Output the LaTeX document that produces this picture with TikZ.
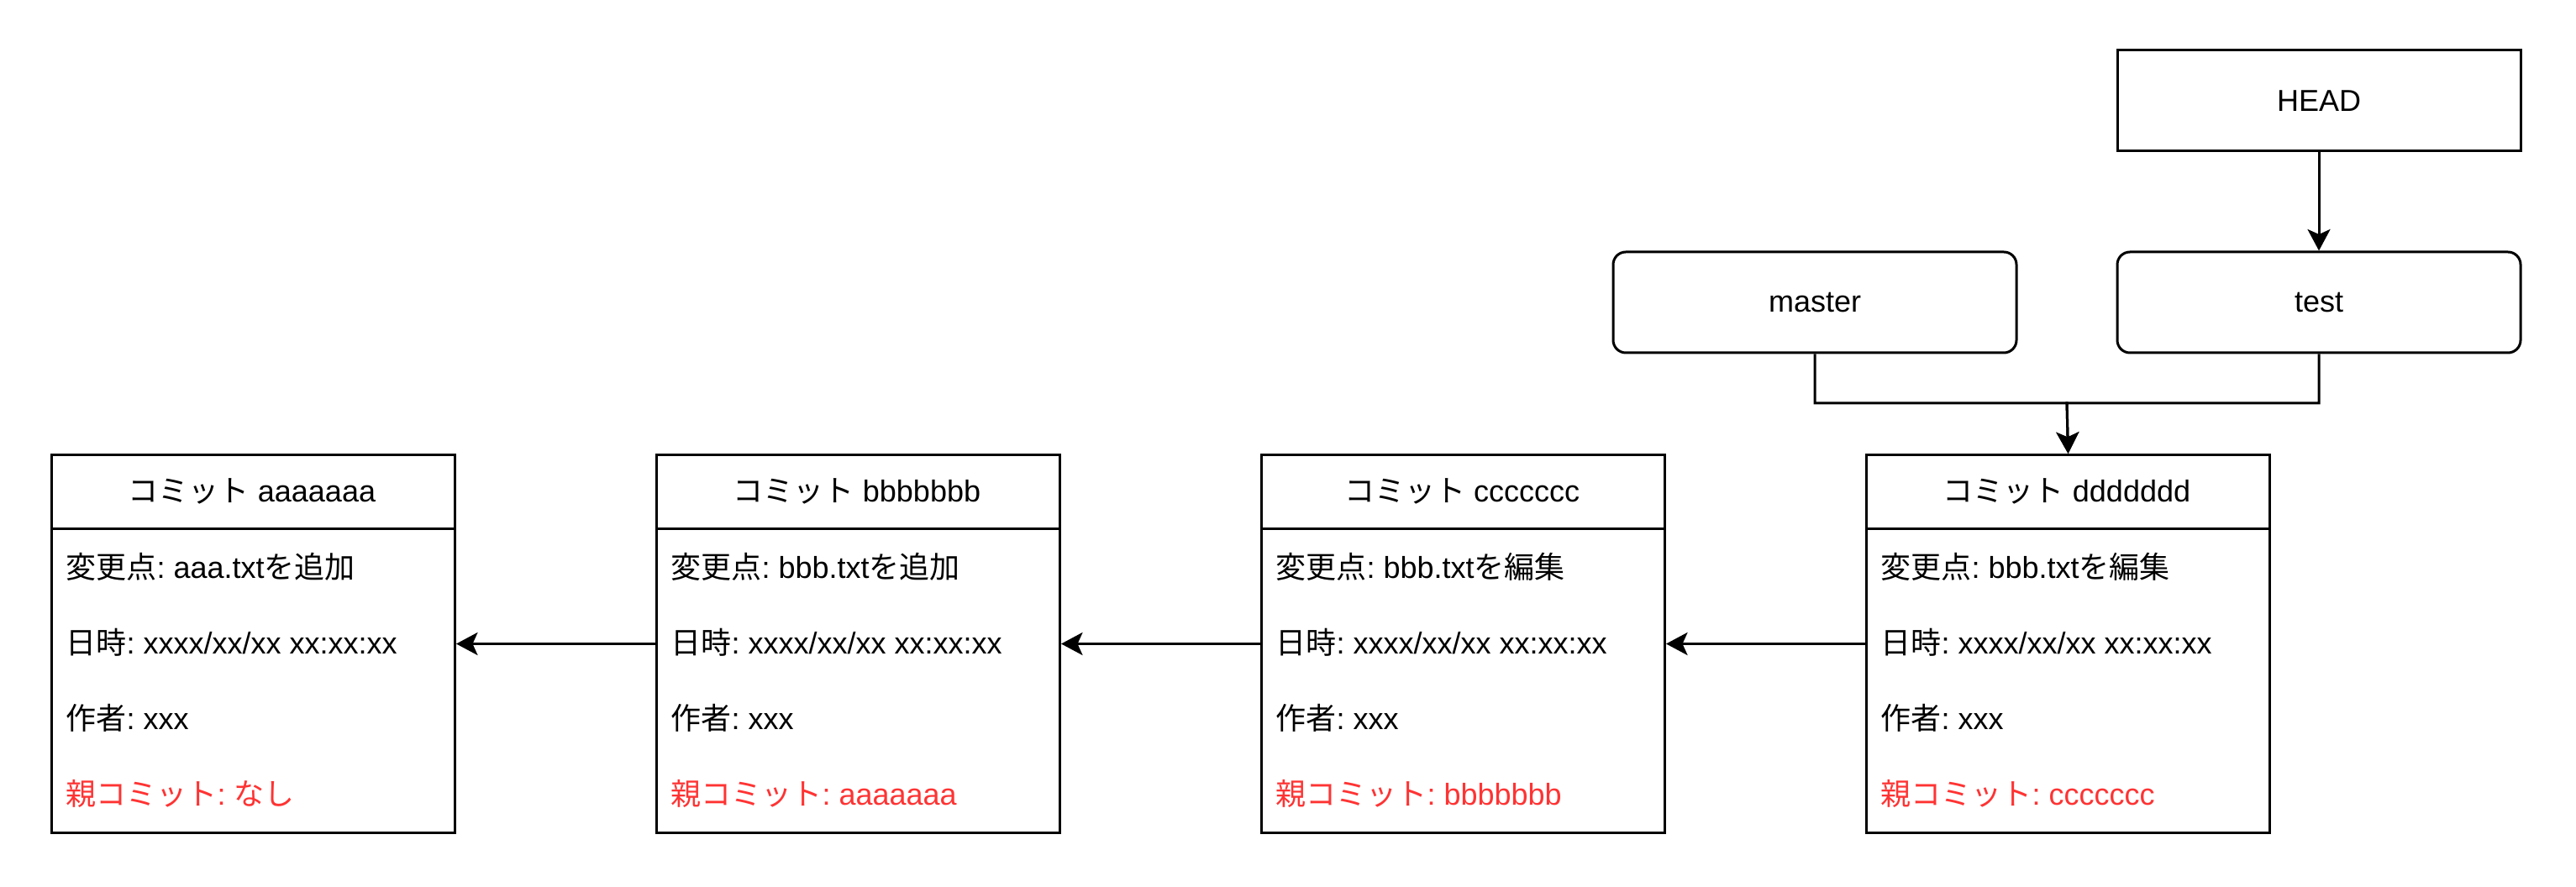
\documentclass[tikz,border=0pt]{standalone}
\usepackage{fontspec}
\setmainfont{Liberation Sans}
\newfontfamily\jp{Noto Sans CJK JP}
\usetikzlibrary{arrows.meta}
\definecolor{redtxt}{HTML}{FF3333}
\frenchspacing
\tikzset{
  commitbox/.style={draw, line width=1pt, minimum width=160pt, minimum height=150pt, inner sep=0pt, anchor=north west},
  refbox/.style={draw, line width=1pt, minimum width=160pt, minimum height=40pt, inner sep=0pt, font=\fontsize{12pt}{14pt}\selectfont},
  branchbox/.style={refbox, rounded corners=5pt},
  headtxt/.style={inner sep=0pt, anchor=base, font=\fontsize{12pt}{14pt}\selectfont\frenchspacing},
  rowtxt/.style={inner sep=0pt, anchor=base west, font=\fontsize{12pt}{14pt}\selectfont\frenchspacing},
  parenttxt/.style={rowtxt, text=redtxt},
  conn/.style={line width=1pt, -{Stealth[length=8.5pt, width=9pt, inset=2pt]}},
}
\begin{document}
\begin{tikzpicture}[x=1pt, y=-1pt]
\useasboundingbox (0,0) rectangle (1022,352);
% commit boxes
\foreach \ci/\cx/\chd/\chg/\cprt in {
  1/20/aaaaaaa/{{\jp 変更点}: aaa.txt{\jp を追加}}/{{\jp 親コミット}: {\jp なし}},
  2/260/bbbbbbb/{{\jp 変更点}: bbb.txt{\jp を追加}}/{{\jp 親コミット}: aaaaaaa},
  3/500/ccccccc/{{\jp 変更点}: bbb.txt{\jp を編集}}/{{\jp 親コミット}: bbbbbbb},
  4/740/ddddddd/{{\jp 変更点}: bbb.txt{\jp を編集}}/{{\jp 親コミット}: ccccccc}} {
  \node[commitbox] (c\ci) at (\cx,180) {};
  \draw[line width=1pt] ([yshift=-30pt]c\ci.north west) -- ([yshift=-30pt]c\ci.north east);
  \node[headtxt] (c\ci h) at (\cx+80,199.3) {{\jp コミット} \chd};
  \node[rowtxt] (c\ci a) at (\cx+6,229.5) {\chg};
  \node[rowtxt] (c\ci b) at (\cx+6,259.5) {{\jp 日時}: xxxx/xx/xx xx:xx:xx};
  \node[rowtxt] (c\ci c) at (\cx+6,289.5) {{\jp 作者}: xxx};
  \node[parenttxt] (c\ci d) at (\cx+6,319.5) {\cprt};
}
% refs
\node[refbox] (head) at (920,40) {HEAD};
\node[branchbox] (master) at (720,120) {master};
\node[branchbox] (test) at (920,120) {test};
\coordinate (jn) at (820,160);
% connectors
\draw[conn] (head.south) -- (test.north);
\draw[conn] (master.south) |- (jn) -- (c4.north);
\draw[conn] (test.south) |- (jn) -- (c4.north);
\draw[conn] (c4.west) -- (c3.east);
\draw[conn] (c3.west) -- (c2.east);
\draw[conn] (c2.west) -- (c1.east);
\end{tikzpicture}
\end{document}
